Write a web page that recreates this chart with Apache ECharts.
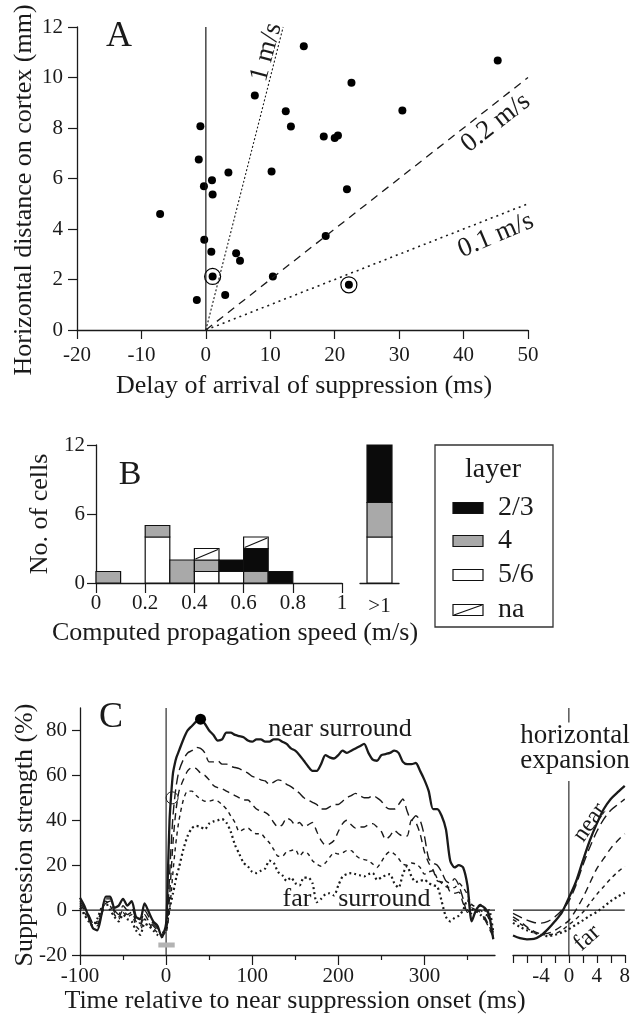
<!DOCTYPE html>
<html><head><meta charset="utf-8">
<script src="https://cdn.jsdelivr.net/npm/echarts@6/dist/echarts.min.js"></script>
<style>html,body{margin:0;padding:0;background:#fff}#c{width:633px;height:1018px}</style>
</head><body><div id="c"></div>
<script>
// ---------- Panel A data ----------
const delayA = [45.3, 15.2, 22.6, 7.6, 12.4, 30.5, 13.2, 18.3, 20.0, 20.5, -0.85, -1.1, 3.5, 10.2, 0.95, -0.3, 1.05, 21.9, -7.1, -0.25, 18.6, 0.85, 4.7, 5.3, 1.05, 10.4, 22.2, 3.0, -1.4];
const distA  = [10.67, 11.24, 9.79, 9.29, 8.66, 8.69, 8.06, 7.66, 7.6, 7.7, 8.07, 6.75, 6.24, 6.28, 5.93, 5.69, 5.37, 5.57, 4.59, 3.57, 3.72, 3.1, 3.04, 2.74, 2.12, 2.12, 1.79, 1.39, 1.19];
const circledDelay = [1.05, 22.2];
const circledDist  = [2.12, 1.79];
const speedNames = ['1 m/s', '0.2 m/s', '0.1 m/s'];
const speedMmPerMs = [1, 0.2, 0.1];
const speedEndDelay = [12, 50, 50];
const xTicksA = [-20, 50, 10];
const yTicksA = [0, 12, 2];

// ---------- Panel B data ----------
const layerNames = ['2/3', '4', '5/6', 'na'];
const binStart = [0, 0.1, 0.2, 0.3, 0.4, 0.5, 0.6, 0.7, 0.8, 0.9];
const binWidth = 0.1;
const count23 = [0, 0, 0, 0, 0, 1, 2, 1, 0, 0];
const count4  = [1, 0, 1, 2, 1, 0, 1, 0, 0, 0];
const count56 = [0, 0, 4, 0, 1, 1, 0, 0, 0, 0];
const countNA = [0, 0, 0, 0, 1, 0, 1, 0, 0, 0];
const fastLabel = ['>1'];
const fastCounts = [5, 3, 4, 0]; // 2/3, 4, 5/6, na

// ---------- Panel C data ----------
const tC = [-100,-95,-90,-85,-80,-75,-70,-65,-60,-55,-50,-45,-40,-35,-30,-25,-20,-15,-10,-5,
  0,2,4,6,8,10,12,15,
  20,25,30,35,40,45,50,55,60,65,70,75,80,85,90,95,100,105,110,115,120,125,130,135,140,145,150,155,160,165,170,175,180,185,190,195,200,205,210,215,220,225,230,235,240,245,250,255,260,265,270,275,280,285,290,295,300,305,310,315,320,325,330,335,340,345,350,355,360,365,370,375,380];
const nearC = [5.5,2,-3,-8,-9,-2,6,6,1,2,5,2,4,-3,-4,3,-1,-5,-7,-12,
  -6,15,40,52,61,65,68,71,
  76,80,82,84,85,83,80,78,75.5,76, 79,79,78,77.5,77,75.5,75,76,76,75, 75,76,76,75,74,72,71,69,66.5,64, 62,62,65,69,68,67.5,69,71,70,71, 72,73,74,70,67,66.5,69,69.5,70,71, 70,66,65,65,65.5,62,58,53,45,45, 42,36,22,19,20,19,11,-5,0,2, 1,-2,-13];
const mid1C = [4,1,-2,-6,-7,-1,5,5,0,-2,2,0,1,-4,-6,0,-3,-6,-8,-10,
  -8,0,15,30,42,50,56,62,
  67,70,71,72.5,72,70,66,66,66.5,65, 65,64,63.5,63,62,61,59.5,59,58,57.5, 56,57,58,57.5,56,55,53.5,52,50,49, 48,47,45,45,46,47,47,48.5,50,51, 52,51,50,50,51,50,48.5,46,45,45, 47,49.5,44,40,42,40,33,23,21,20, 17,13,12,14,11,5,-1,1,0,-1, -4,-8,-12];
const mid2C = [3,0,-3,-5,-6,-2,3,4,-1,-3,0,-2,-1,-5,-7,-2,-5,-7,-9,-11,
  -9,-4,6,18,30,39,46,53,
  58,62,63.5,63,61,60,58,55.5,54.5,54, 53,52,51,50,49,49,47,45,44,43.5, 42,39,37,38,41,40,38,39,37,38, 39,35,31,29,29.5,31,35,38.5,40,38, 36.5,37,37,38,38.5,37,35,31.5,33,35.5, 34,33,33,40,39,34,26,21,18,13, 12.5,12,8,7.5,8,3,0,-1.5,0,0, -3,-7,-11];
const mid3C = [2,-1,-4,-6,-5,0,4,2,-2,-4,-1,-3,-2,-7,-9,-4,-6,-8,-10,-11,
  -10,-6,0,8,17,25,32,40,
  49,53,53,51,49.5,48.5,48.5,49,48.5,47, 45,42,39,35,36,36.5,35,34,34,32, 30,27,24,24,26,26.5,27,24,26,25, 22,20.5,19.5,21,23.5,25.5,25,25.5,26.5,26.5, 24.5,23,22.5,22,20.5,19,21.5,24.5,26,25, 23,20.5,20,21,20.5,19,16,17,17.5,14, 12,10.5,10,10,12,10,7,2.5,1.5,2.5, 0,-4,-10];
const farC = [1,-2,-5,-7,-4,1,3,0,-3,-5,-2,-4,-5,-9,-11,-6,-7,-9,-11,-12,
  -8,-4,0,4,7.5,11,15,19,
  27,33,36.5,37.5,37,36,38.5,39.5,40,40.5, 39,35,29,25,21,19.5,17,16.5,17.5,18.5, 22,21,17,15.5,13,14.5,12,11,14.5,14.5, 12,3.5,5,7,7.5,6.5,11,15,16,16.5, 16,15.5,15,16,16.5,13.5,14.5,15.5,16,12, 10,16,19.5,15,12.5,13,13.5,12,11,10.5, 4,-3,-5,-3.5,-2.5,0,4.5,0.5,-0.5,-2, -4,0,-10];
const peakNear = [40, 85];
const halfMaxNear = [7, 50];
const onsetBar = [-9, 10, -15.5];
const xMajorC = [-100,0,100,200,300];
const xMinorC = [-50,50,150,250,350];
const yTicksC = [-20,0,20,40,60,80];

// inset (horizontal expansion)
const xI = [-8,-7,-6,-5,-4,-3,-2,-1,0,1,2,3,4,5,6,7,8];
const nearI = [-11.3,-12.5,-13,-12.8,-11.3,-8.5,-5,-1,5.5,12.5,22,31,38.5,45,49.5,52.5,55.3];
const mid1I = [-1.5,-3,-4.5,-5.5,-5.8,-5,-3,0,4,11,20,28,35,40.5,44.5,47,49.4];
const mid2I = [-3,-5,-7.5,-9.5,-10.5,-10.3,-9,-7,-4.6,0,5.5,12,18.5,23,27.5,31,34];
const mid3I = [-4.2,-6,-8,-10,-11,-11,-10.5,-9,-6.5,-4,-1,3,7,10.5,14,17,19.6];
const farI = [-5.7,-7.5,-9,-10,-11,-11.6,-11,-10,-8.5,-6.5,-4.6,-2.5,-0.8,1.5,4,6,7.7];
const xLabelsI = [-4,0,4,8];

// ---------- styles ----------
const FONT = '"Liberation Serif","DejaVu Serif",serif';
const INK = '#1a1a1a';
const traceStyles = [
  {width: 2.3, type: 'solid'},
  {width: 1.4, type: [10, 5]},
  {width: 1.4, type: [7, 5]},
  {width: 1.4, type: [4, 4]},
  {width: 2.2, type: [2, 3]}
];
const layerFill = ['#0b0b0b', '#a9a9a9', '#ffffff', '#ffffff'];

function axisCommon(extra, margin) {
  return Object.assign({
    axisLine: {show: true, onZero: false, lineStyle: {color: INK, width: 1.3}},
    axisTick: {show: true, length: 9, lineStyle: {color: INK, width: 1.2}},
    axisLabel: {color: INK, fontFamily: FONT, fontSize: 21, margin: margin || 13},
    splitLine: {show: false}
  }, extra);
}

function cellShape(x0, x1, yTop, yBot, layer) {
  const children = [{type: 'rect', shape: {x: x0, y: yTop, width: x1 - x0, height: yBot - yTop},
    style: {fill: layerFill[layer], stroke: '#111', lineWidth: 1.2}}];
  if (layer === 3) children.push({type: 'line', shape: {x1: x0 + 1, y1: yBot - 1, x2: x1 - 1, y2: yTop + 1},
    style: {stroke: '#111', lineWidth: 1.2}});
  return {type: 'group', children};
}

// histogram cells (stack order: 5/6, 4, 2/3, na)
const layerCounts = [count23, count4, count56, countNA];
const stackOrder = [2, 1, 0, 3];
const histCells = [];
binStart.forEach((b, i) => {
  let base = 0;
  stackOrder.forEach(L => {
    const n = layerCounts[L][i];
    if (n > 0) { histCells.push([b, b + binWidth, base, base + n, L]); base += n; }
  });
});
const fastCells = [];
{
  let base = 0;
  stackOrder.forEach(L => {
    const n = fastCounts[L];
    if (n > 0) { fastCells.push([0, base, base + n, L]); base += n; }
  });
}

const pairs = (xs, ys) => xs.map((x, i) => [x, ys[i]]);
const lineSeries = (xi, yi, data, ls, extra) => Object.assign({
  type: 'line', xAxisIndex: xi, yAxisIndex: yi, data, symbol: 'none', silent: true,
  lineStyle: Object.assign({color: INK, opacity: 1}, ls)
}, extra || {});
const textSeries = (xi, yi, pos, text, size, rotate) => ({
  type: 'scatter', xAxisIndex: xi, yAxisIndex: yi, data: [pos], symbolSize: 0, silent: true, z: 20,
  itemStyle: {opacity: 1},
  label: {show: true, position: 'inside', formatter: text, rotate: rotate || 0,
    color: INK, opacity: 1, fontFamily: FONT, fontSize: size}
});

const series = [];
// --- A ---
series.push(lineSeries(0, 0, [[0, 0], [0, 12]], {width: 1.2}));
const speedStyles = [{width: 1.1, type: [2, 2]}, {width: 1.3, type: [8, 6]}, {width: 1.6, type: [2, 4]}];
speedMmPerMs.forEach((s, i) => {
  series.push(lineSeries(0, 0, [[0, 0], [speedEndDelay[i], speedEndDelay[i] * s]], speedStyles[i]));
});
series.push({type: 'scatter', xAxisIndex: 0, yAxisIndex: 0, data: pairs(delayA, distA),
  symbol: 'circle', symbolSize: 8, itemStyle: {color: '#000', opacity: 1}, silent: true});
series.push({type: 'scatter', xAxisIndex: 0, yAxisIndex: 0, data: pairs(circledDelay, circledDist),
  symbol: 'circle', symbolSize: 16, itemStyle: {color: 'rgba(0,0,0,0)', borderColor: '#000', borderWidth: 1.2, opacity: 1}, silent: true});
series.push(textSeries(0, 0, [9.4, 11.0], speedNames[0], 27, 75));
series.push(textSeries(0, 0, [45.0, 8.2], speedNames[1], 27, 38));
series.push(textSeries(0, 0, [45.0, 3.75], speedNames[2], 27, 23));

// --- B ---
series.push({type: 'custom', xAxisIndex: 1, yAxisIndex: 1, data: histCells, encode: {x: [0, 1], y: [2, 3]}, silent: true,
  renderItem: (params, api) => {
    const tl = api.coord([api.value(0), api.value(3)]);
    const br = api.coord([api.value(1), api.value(2)]);
    return cellShape(tl[0], br[0], tl[1], br[1], api.value(4));
  }});
series.push({type: 'custom', xAxisIndex: 2, yAxisIndex: 2, data: fastCells, encode: {x: 0, y: [1, 2]}, silent: true,
  renderItem: (params, api) => {
    const top = api.coord([api.value(0), api.value(2)]);
    const bot = api.coord([api.value(0), api.value(1)]);
    const half = api.size([1, 0])[0] * 0.32;
    return cellShape(top[0] - half, top[0] + half, top[1], bot[1], api.value(3));
  }});

// --- C main ---
series.push(lineSeries(3, 3, [[-100, 0], [382, 0]], {width: 1.1}));
series.push(lineSeries(3, 3, [[0, -20], [0, 90]], {width: 1.1}));
[nearC, mid1C, mid2C, mid3C, farC].forEach((arr, i) => {
  series.push(lineSeries(3, 3, pairs(tC, arr), traceStyles[i], {smooth: 0.25, z: 3 + (4 - i)}));
});
series.push(lineSeries(3, 3, [[onsetBar[0], onsetBar[2]], [onsetBar[1], onsetBar[2]]], {width: 5, color: '#b3b3b3'}));
series.push({type: 'scatter', xAxisIndex: 3, yAxisIndex: 3, data: [peakNear], symbolSize: 11, itemStyle: {color: '#000', opacity: 1}, silent: true, z: 10});
series.push({type: 'scatter', xAxisIndex: 3, yAxisIndex: 3, data: [halfMaxNear], symbolSize: 12,
  itemStyle: {color: 'rgba(0,0,0,0)', borderColor: '#222', borderWidth: 1, opacity: 1}, silent: true, z: 10});
series.push(textSeries(3, 3, [202, 80.5], 'near surround', 26));
series.push(textSeries(3, 3, [152, 4.8], 'far', 26));
series.push(textSeries(3, 3, [253.5, 4.8], 'surround', 26));

// --- C inset ---
series.push(lineSeries(4, 4, [[-8, 0], [8, 0]], {width: 1.1}));
series.push(lineSeries(4, 4, [[0, -20], [0, 57.5]], {width: 1.1}));
series.push(lineSeries(4, 4, [[0, 83.5], [0, 90]], {width: 1.1}));
[nearI, mid1I, mid2I, mid3I, farI].forEach((arr, i) => {
  series.push(lineSeries(4, 4, pairs(xI, arr), traceStyles[i], {smooth: 0.3, z: 3 + (4 - i)}));
});
series.push(textSeries(4, 4, [3.0, 39], 'near', 24, 55));
series.push(textSeries(4, 4, [2.6, -12.5], 'far', 24, 42));

// ---------- graphic (panel letters, titles, legend) ----------
const T = (text, x, y, size, rot, extra) => ({
  type: 'text', x, y, rotation: rot || 0, silent: true,
  style: Object.assign({text, fill: INK, font: size + 'px ' + FONT, textAlign: 'center', textVerticalAlign: 'middle'}, extra || {})
});
const graphic = [
  T('A', 119, 37, 36), T('B', 130, 475, 34), T('C', 111, 718, 36),
  T('Horizontal distance on cortex (mm)', 24, 190, 26, Math.PI / 2),
  T('Delay of arrival of suppression (ms)', 304, 386, 26),
  T('No. of cells', 40, 514, 26, Math.PI / 2),
  T('Computed propagation speed (m/s)', 235, 633, 26),
  T('Suppression strength (%)', 25, 835, 26, Math.PI / 2),
  T('Time relative to near suppression onset (ms)', 295, 1001, 26),
  T('horizontal\nexpansion', 575, 748, 27, 0, {lineHeight: 25}),
  {type: 'rect', shape: {x: 435, y: 445, width: 118, height: 182}, style: {fill: 'none', stroke: '#333', lineWidth: 1.3}, silent: true},
  T('layer', 493, 470, 28)
];
const legendY = [508, 541, 575, 610];
layerNames.forEach((name, L) => {
  const y = legendY[L];
  graphic.push({type: 'rect', shape: {x: 453, y: y - 5.5, width: 30, height: 11}, style: {fill: layerFill[L], stroke: '#111', lineWidth: 1.2}, silent: true});
  if (L === 3) graphic.push({type: 'line', shape: {x1: 454, y1: y + 5, x2: 482, y2: y - 5}, style: {stroke: '#111', lineWidth: 1.2}, silent: true});
  graphic.push(T(name, 498, y, 28, 0, {textAlign: 'left'}));
});

const option = {
  animation: false,
  backgroundColor: '#fff',
  textStyle: {fontFamily: FONT, color: INK},
  grid: [
    {left: 77, top: 27, width: 451, height: 303},
    {left: 96, top: 445, width: 246, height: 138},
    {left: 360, top: 445, width: 39, height: 138},
    {left: 80, top: 708, width: 415, height: 247},
    {left: 513, top: 708, width: 114, height: 247}
  ],
  xAxis: [
    axisCommon({gridIndex: 0, type: 'value', min: xTicksA[0], max: xTicksA[1], interval: xTicksA[2]}, 15),
    axisCommon({gridIndex: 1, type: 'value', min: 0, max: 1, interval: 0.2, axisTick: {show: true, length: 10, lineStyle: {color: INK, width: 1.2}}}, 10),
    axisCommon({gridIndex: 2, type: 'category', data: fastLabel, axisTick: {show: false}}, 13),
    axisCommon({gridIndex: 3, type: 'value', min: -100, max: 382,
      axisTick: {show: true, length: 10, customValues: xMajorC, lineStyle: {color: INK, width: 1.2}},
      axisLabel: {color: INK, fontFamily: FONT, fontSize: 21, margin: 11, customValues: xMajorC}}),
    axisCommon({gridIndex: 4, type: 'value', min: -8, max: 8, interval: 2,
      axisTick: {show: true, length: 8, lineStyle: {color: INK, width: 1.2}},
      axisLabel: {color: INK, fontFamily: FONT, fontSize: 21, margin: 11, customValues: xLabelsI}}),
    {gridIndex: 3, type: 'value', min: -100, max: 382, position: 'bottom',
      axisLine: {show: false, onZero: false},
      axisTick: {show: true, length: 5, customValues: xMinorC, lineStyle: {color: INK, width: 1.2}},
      axisLabel: {show: false}, splitLine: {show: false}}
  ],
  yAxis: [
    axisCommon({gridIndex: 0, type: 'value', min: yTicksA[0], max: yTicksA[1], interval: yTicksA[2]}, 14),
    axisCommon({gridIndex: 1, type: 'value', min: 0, max: 12, interval: 6}, 11),
    {gridIndex: 2, type: 'value', min: 0, max: 12, show: false},
    axisCommon({gridIndex: 3, type: 'value', min: -20, max: 90,
      axisTick: {show: true, length: 8, customValues: yTicksC, lineStyle: {color: INK, width: 1.2}},
      axisLabel: {color: INK, fontFamily: FONT, fontSize: 21, margin: 13, customValues: yTicksC}}),
    {gridIndex: 4, type: 'value', min: -20, max: 90, show: false}
  ],
  series,
  graphic
};
const chart = echarts.init(document.getElementById('c'));
chart.setOption(option);
</script>
</body></html>
